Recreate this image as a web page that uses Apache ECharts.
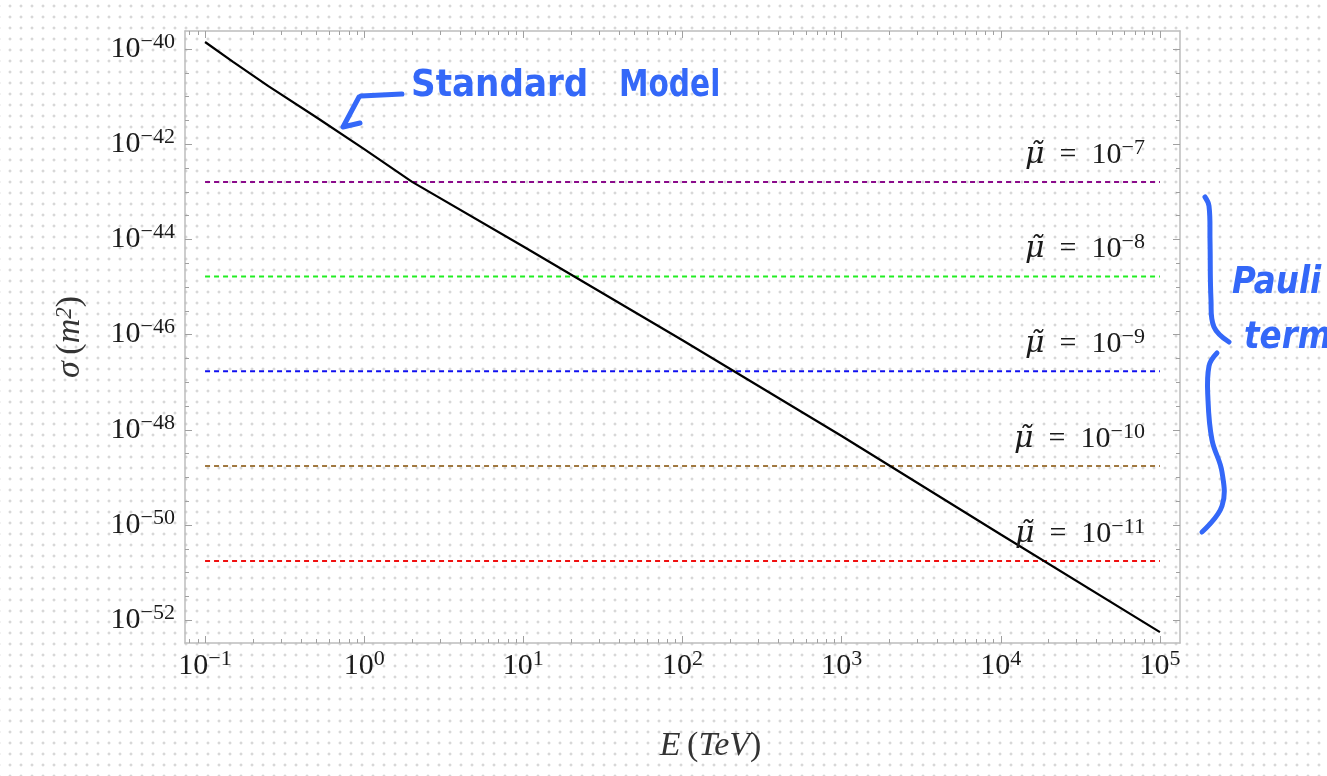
<!DOCTYPE html>
<html>
<head>
<meta charset="utf-8">
<title>sigma vs E</title>
<script src="https://cdn.jsdelivr.net/npm/echarts@6/dist/echarts.min.js"></script>
<style>
html, body { margin: 0; padding: 0; background-color: #fff; }
body {
    background-image: radial-gradient(circle, #c2c2c2 0.9px, transparent 1.4px);
    background-size: 11px 11px;
    background-position: 4.5px 0.5px;
}
#main { width: 1327px; height: 776px; }
</style>
</head>
<body>
<div id="main"></div>
<script>
// 能量 E (TeV) 与标准模型截面 sigma (m^2)
var energy = [0.1, 0.15, 0.25, 0.5, 1, 2, 10, 100, 1000, 10000, 100000];
var smSigma = [1.41e-40, 5.4e-41, 1.66e-41, 3.7e-42, 7.9e-43, 1.62e-43, 7.1e-45, 7.6e-47, 7.4e-49, 6.3e-51, 5.6e-53];

// Pauli 项：每个 mu 对应一条水平虚线
var muExp = ['−7', '−8', '−9', '−10', '−11'];
var muSigma = [1.62e-43, 1.66e-45, 1.70e-47, 1.74e-49, 1.74e-51];
var muColors = ['#8a0a8a', '#22ee22', '#1010f0', '#a07840', '#f01010'];
var eRange = [0.1, 100000];

// 刻度（以 10 为底的指数）
var xTickExp = [-1, 0, 1, 2, 3, 4, 5];
var yTickExp = [-52, -50, -48, -46, -44, -42, -40];

var xMin = -1.126, xMax = 5.126;
var yMin = -52.48, yMax = -39.62;

var lg = Math.log10;
var serif = 'Liberation Serif';
var textColor = '#1a1a1a';
var frameColor = '#bdbdbd';

var xMinor = [];
for (var n = -2; n <= 5; n++) {
    for (var k = 2; k <= 9; k++) {
        var v = n + lg(k);
        if (v > xMin && v < xMax) xMinor.push(v);
    }
}
var yMinor = [];
for (var m = -53; m <= -39; m += 0.5) {
    if (m > yMin && m < yMax && yTickExp.indexOf(m) < 0) yMinor.push(m);
}

var powRich = {
    b: { fontFamily: serif, fontSize: 30, color: textColor, lineHeight: 36 },
    e: { fontFamily: serif, fontSize: 22, color: textColor, lineHeight: 22, verticalAlign: 'top' }
};
function powLabel(v) {
    return '{b|10}{e|' + String(v).replace('-', '−') + '}';
}

// 框线上的刻度轴
function frameAxis(pos, min, max, ticks, len, withLine, labels, extra) {
    var a = {
        type: 'value',
        position: pos,
        min: min,
        max: max,
        splitLine: { show: false },
        axisLine: { show: withLine, onZero: false, lineStyle: { color: frameColor, width: 1.5 } },
        axisTick: { show: true, inside: true, length: len, customValues: ticks, lineStyle: { color: '#a0a0a0', width: 1 } },
        axisLabel: { show: false }
    };
    if (labels) {
        a.axisLabel = {
            show: true,
            customValues: labels,
            formatter: powLabel,
            rich: powRich,
            margin: extra.margin
        };
        a.name = extra.name;
        a.nameLocation = 'middle';
        a.nameGap = extra.nameGap;
        a.nameTextStyle = { rich: extra.nameRich, padding: extra.namePad };
    }
    return a;
}

var nameRich = {
    i: { fontFamily: serif, fontStyle: 'italic', fontSize: 34, color: '#333' },
    n: { fontFamily: serif, fontSize: 34, color: '#333' },
    s: { fontFamily: serif, fontStyle: 'italic', fontSize: 23, color: '#333', verticalAlign: 'top', lineHeight: 22 }
};

var xAxes = [
    frameAxis('bottom', xMin, xMax, xTickExp, 7, true, xTickExp,
        { margin: 5, name: '{i|E}  {n|(}{i|TeV}{n|)}', nameGap: 86, nameRich: nameRich, namePad: [0, 0, 0, 56] }),
    frameAxis('bottom', xMin, xMax, xMinor, 4, false),
    frameAxis('top', xMin, xMax, xTickExp, 7, true),
    frameAxis('top', xMin, xMax, xMinor, 4, false)
];
var yAxes = [
    frameAxis('left', yMin, yMax, yTickExp, 7, true, yTickExp,
        { margin: 10, name: '{i|σ}  {n|(}{i|m}{s|2}{n|)}', nameGap: 98, nameRich: nameRich, namePad: 0 }),
    frameAxis('left', yMin, yMax, yMinor, 4, false),
    frameAxis('right', yMin, yMax, yTickExp, 7, true),
    frameAxis('right', yMin, yMax, yMinor, 4, false)
];

var series = [];

// 水平虚线
for (var i = 0; i < muSigma.length; i++) {
    var ls = lg(muSigma[i]);
    series.push({
        type: 'line',
        xAxisIndex: 0,
        yAxisIndex: 0,
        symbol: 'circle',
        symbolSize: 0,
        showSymbol: true,
        lineStyle: { color: muColors[i], width: 2, type: [5, 4] },
        itemStyle: { color: muColors[i] },
        data: [
            [lg(eRange[0]), ls],
            {
                value: [lg(eRange[1]), ls],
                label: {
                    show: true,
                    position: 'top',
                    align: 'right',
                    offset: [-15, -4],
                    formatter: '{m|μ̃}{n|  =  10}{e|' + muExp[i] + '}',
                    rich: {
                        m: { fontFamily: 'DejaVu Serif', fontStyle: 'italic', fontSize: 30, color: textColor, lineHeight: 36 },
                        n: { fontFamily: serif, fontSize: 30, color: textColor, lineHeight: 36 },
                        e: { fontFamily: serif, fontSize: 22, color: textColor, lineHeight: 22, verticalAlign: 'top' }
                    }
                }
            }
        ]
    });
}

// 标准模型曲线
var smData = [];
for (var j = 0; j < energy.length; j++) {
    smData.push([lg(energy[j]), lg(smSigma[j])]);
}
series.push({
    type: 'line',
    xAxisIndex: 0,
    yAxisIndex: 0,
    showSymbol: false,
    smooth: false,
    lineStyle: { color: '#000', width: 2.2 },
    data: smData
});

var blue = '#3468f8';
var penStyle = { stroke: blue, lineWidth: 5, fill: null, lineCap: 'round', lineJoin: 'round' };
var option = {
    animation: false,
    backgroundColor: 'transparent',
    grid: { left: 185, right: 147, top: 31, bottom: 133, containLabel: false },
    xAxis: xAxes,
    yAxis: yAxes,
    series: series,
    graphic: [
        {
            type: 'text', x: 411, y: 86, scaleX: 0.9,
            style: { text: 'Standard', font: 'bold 38px "DejaVu Sans"', fill: blue, verticalAlign: 'middle' }
        },
        {
            type: 'text', x: 619, y: 86, scaleX: 0.78,
            style: { text: 'Model', font: 'bold 38px "DejaVu Sans"', fill: blue, verticalAlign: 'middle' }
        },
        { type: 'polyline', shape: { points: [[402, 94], [361, 96]] }, style: penStyle },
        { type: 'polyline', shape: { points: [[359, 97], [343, 127], [360, 123]] }, style: penStyle },
        {
            type: 'polyline',
            shape: { smooth: 0.4, points: [[1205, 197], [1209, 206], [1210, 240], [1211, 300], [1214, 327], [1229, 342]] },
            style: penStyle
        },
        {
            type: 'polyline',
            shape: { smooth: 0.4, points: [[1217, 353], [1209, 366], [1208, 400], [1212, 440], [1222, 472], [1222, 506], [1202, 532]] },
            style: penStyle
        },
        {
            type: 'text', x: 1232, y: 283, scaleX: 0.88,
            style: { text: 'Pauli', font: 'bold italic 37px "DejaVu Sans"', fill: blue, verticalAlign: 'middle' }
        },
        {
            type: 'text', x: 1244, y: 338, scaleX: 0.88,
            style: { text: 'term', font: 'bold italic 37px "DejaVu Sans"', fill: blue, verticalAlign: 'middle' }
        }
    ]
};

var chart = echarts.init(document.getElementById('main'));
chart.setOption(option);
</script>
</body>
</html>
